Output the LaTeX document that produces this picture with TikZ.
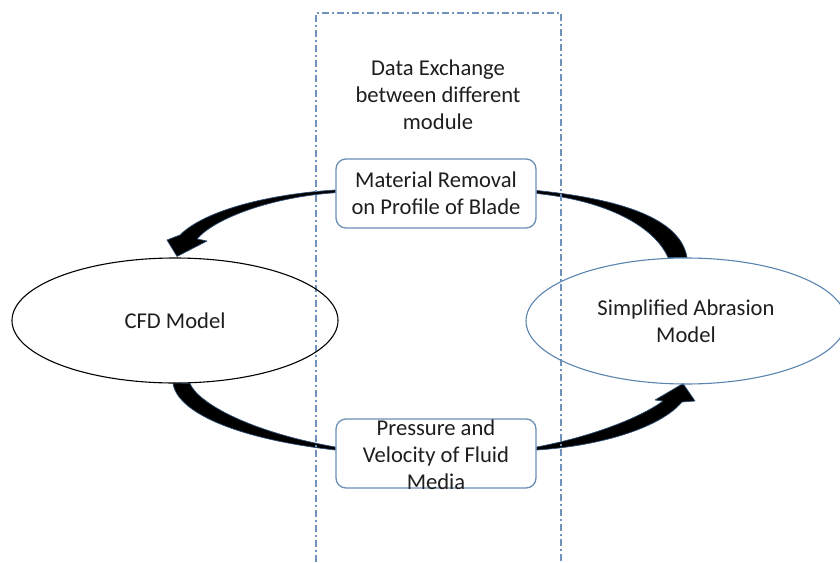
\documentclass[tikz,border=0pt]{standalone}
\usepackage{fontspec}
\setmainfont{Carlito}
\usetikzlibrary{shapes.geometric,calc,backgrounds}
\definecolor{frameblue}{HTML}{7093BC}
\definecolor{boxblue}{HTML}{6B8EB6}
\definecolor{ovalblue}{HTML}{5B84B1}
\definecolor{inkgrey}{HTML}{1E1E1E}
\definecolor{arrowedge}{HTML}{2E4E74}
\tikzset{
  txt/.style={align=center, text=inkgrey, font=\fontsize{22.6}{27}\selectfont, inner sep=0pt},
  infobox/.style={draw=boxblue, line width=1.3pt, rounded corners=10pt, fill=white,
    minimum width=200pt, minimum height=69pt, inner sep=0pt},
  model/.style={ellipse, line width=1.1pt, inner sep=0pt, txt},
  modframe/.style={draw=frameblue, line width=1.2pt, dash pattern=on 7pt off 3pt on 2pt off 3pt},
  flow/.style={fill=black, draw=arrowedge, line width=0.7pt, line join=round}
}
\begin{document}
\begin{tikzpicture}[x=1pt,y=-1pt]
\clip (0,0) rectangle (840,562);
\useasboundingbox (0,0) rectangle (840,562);

% module frame, open at the bottom
\draw[modframe] (316,562) -- (316,13) -- (561,13) -- (561,562);
\node[txt] (dx) at (438,95) {Data Exchange\\between different\\module};

% models
\node[model, draw=black, minimum width=326pt, minimum height=125pt] (cfd) at (175,320.5) {CFD Model};
\node[model, draw=ovalblue, minimum width=320pt, minimum height=126pt] (sam) at (686,321) {Simplified Abrasion\\Model};

% exchanged data
\node[infobox] (mr) at (436,193.5) {};
\node[txt] (mrtext) at (mr.center) {Material Removal\\on Profile of Blade};
\node[infobox] (pv) at (436,453.5) {};
\node[txt] (pvtext) at ($(pv.center)+(0,1.5)$) {Pressure and\\Velocity of Fluid\\Media};

\begin{scope}[on background layer]
  % Simplified Abrasion Model -> Material Removal (tapering towards the box)
  \fill[flow] ($(sam.north)+(1,0)$) .. controls (680,215) and (610,198) .. ($(mr.east)+(0,-3)$)
     -- ($(mr.east)+(0,0)$) .. controls (610,201) and (655,228) .. ($(sam.north)+(-18,0)$) -- cycle;
  % Material Removal -> CFD Model
  \coordinate (tipA) at ($(cfd.north)+(2,-1)$);
  \fill[flow] ($(mr.west)+(0,-3.5)$) .. controls (270,194) and (205,210) .. (180,235)
     -- (167,240) -- (tipA) -- (207,241) -- (197,239)
     .. controls (215,218) and (272,197) .. ($(mr.west)+(0,-0.8)$) -- cycle;
  % CFD Model -> Pressure and Velocity
  \fill[flow] ($(cfd.south)+(-2,0)$) .. controls (178,415) and (245,440) .. ($(pv.west)+(0,-3.5)$)
     -- ($(pv.west)+(0,-6.5)$) .. controls (250,432) and (198,403) .. ($(cfd.south)+(15,0)$) -- cycle;
  % Pressure and Velocity -> Simplified Abrasion Model
  \coordinate (tipB) at ($(sam.south)+(-3,-1)$);
  \fill[flow] ($(pv.east)+(0,-6.5)$) .. controls (590,437) and (640,418) .. (663,401)
     -- (655,400) -- (tipB) -- (695,401) -- (682,402)
     .. controls (660,428) and (600,446) .. ($(pv.east)+(0,-3.5)$) -- cycle;
\end{scope}
\end{tikzpicture}
\end{document}
